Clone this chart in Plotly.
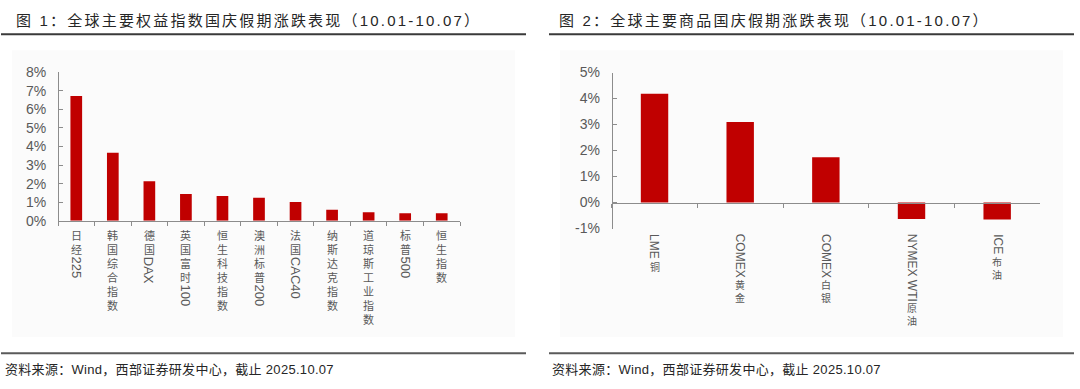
import plotly.graph_objects as go

W, H = 1080, 389

# ---------------- data ----------------
eq_names = ["日经225", "韩国综合指数", "德国DAX", "英国富时100", "恒生科技指数", "澳洲标普200",
            "法国CAC40", "纳斯达克指数", "道琼斯工业指数", "标普500", "恒生指数"]
eq_values = [6.72, 3.66, 2.13, 1.44, 1.34, 1.24, 1.01, 0.60, 0.46, 0.41, 0.41]
eq_ticks = [0, 1, 2, 3, 4, 5, 6, 7, 8]

cm_names = ["LME铜", "COMEX黄金", "COMEX白银", "NYMEX WTI原油", "ICE布油"]
cm_values = [4.18, 3.10, 1.74, -0.63, -0.65]
cm_ticks = [-1, 0, 1, 2, 3, 4, 5]

title1 = "图 1：全球主要权益指数国庆假期涨跌表现（10.01-10.07）"
title2 = "图 2：全球主要商品国庆假期涨跌表现（10.01-10.07）"
source = "资料来源：Wind，西部证券研发中心，截止 2025.10.07"

# ---------------- helpers ----------------
FONT = "Liberation Sans, Arial, Noto Sans CJK SC, sans-serif"
GREY = "#595959"
AXIS = "#8c8c8c"
BAR = "#C00000"


def xp(px):
    return px / W


def yp(py):
    return 1 - py / H


ARIAL_W = {**{d: 0.556 for d in "0123456789"}, "A": .667, "C": .722, "D": .722, "E": .667,
           "I": .278, "L": .556, "M": .833, "N": .722, "O": .778, "T": .611, "W": .944,
           "X": .667, "Y": .667, " ": .278}


def is_cjk(ch):
    return ord(ch) > 0x2E80


def runs(label):
    out = []
    for ch in label:
        c = is_cjk(ch)
        if out and out[-1][0] == c:
            out[-1][1] += ch
        else:
            out.append([c, ch])
    return out


def vertical_labels(names, xref, start_px, pitch, cjk_size, lat_size, gap_cl, gap_lc):
    anns = []
    half = pitch / 2
    for name in names:
        pos = start_px
        prev = None
        for cjk, txt in runs(name):
            if cjk:
                for ch in txt:
                    center = pos + half + (gap_lc if prev == "lat" else 0)
                    anns.append(dict(x=name, xref=xref, y=yp(center), yref="paper", text=ch,
                                     showarrow=False, xanchor="center", yanchor="middle",
                                     borderpad=0,
                                     font=dict(size=cjk_size, color=GREY, family="Noto Sans CJK SC")))
                    pos = center + half
                    prev = "cjk"
            else:
                length = sum(ARIAL_W.get(c, 0.6) for c in txt) * lat_size
                s = pos + (gap_cl if prev == "cjk" else 0)
                center = s + length / 2
                anns.append(dict(x=name, xref=xref, y=yp(center), yref="paper", text=txt,
                                 showarrow=False, xanchor="center", yanchor="middle", textangle=90,
                                 borderpad=0,
                                 font=dict(size=lat_size, color=GREY, family="Liberation Sans")))
                pos = s + length
                prev = "lat"
    return anns


# ---------------- geometry ----------------
L_dom_x = [xp(58), xp(460)]
L_dom_y = [yp(222), yp(67)]
R_dom_x = [xp(611.7), xp(1040)]
R_dom_y = [yp(230), yp(67.3)]

L_range = [eq_ticks[0], eq_ticks[-1]]
R_range = [cm_ticks[0], cm_ticks[-1]]


def zero_pos(dom, rng):
    return dom[0] + (0 - rng[0]) / (rng[1] - rng[0]) * (dom[1] - dom[0])


fig = go.Figure()
fig.add_trace(go.Bar(x=eq_names, y=eq_values, marker=dict(color=BAR, line=dict(width=0)),
                     xaxis="x", yaxis="y", hoverinfo="x+y"))
fig.add_trace(go.Bar(x=cm_names, y=cm_values, marker=dict(color=BAR, line=dict(width=0)),
                     xaxis="x2", yaxis="y2", hoverinfo="x+y"))

common_x = dict(type="category", showline=True, linecolor=AXIS, linewidth=1, ticks="outside",
                tickson="boundaries", ticklen=4, tickcolor=AXIS, showticklabels=False,
                showgrid=False, zeroline=False, fixedrange=True)
common_y = dict(showline=True, linecolor=AXIS, linewidth=1, ticks="inside", ticklen=4,
                tickcolor=AXIS, showgrid=False, zeroline=False, ticklabelstandoff=9,
                tickfont=dict(size=14, color=GREY, family="Liberation Sans"), fixedrange=True)

fig.update_layout(
    width=W, height=H, margin=dict(l=0, r=0, t=0, b=0),
    paper_bgcolor="white", plot_bgcolor="rgba(0,0,0,0)",
    font=dict(family=FONT), showlegend=False, bargap=0.68,
    xaxis=dict(**common_x, domain=L_dom_x, anchor="free",
               position=zero_pos(L_dom_y, L_range), range=[-0.5, len(eq_names) - 0.5]),
    yaxis=dict(**common_y, domain=L_dom_y, anchor="free", position=L_dom_x[0], range=L_range,
               tickvals=eq_ticks, ticktext=[f"{v}%" for v in eq_ticks]),
    xaxis2=dict(**common_x, domain=R_dom_x, anchor="free",
                position=zero_pos(R_dom_y, R_range), range=[-0.5, len(cm_names) - 0.5]),
    yaxis2=dict(**common_y, domain=R_dom_y, anchor="free", position=R_dom_x[0], range=R_range,
                tickvals=cm_ticks, ticktext=[f"{v}%" for v in cm_ticks]),
)

shapes = [
    # chart backgrounds
    dict(type="rect", xref="paper", yref="paper", x0=xp(12), x1=xp(515), y0=yp(343), y1=yp(44),
         fillcolor="#FBFBFB", line=dict(width=0), layer="below"),
    dict(type="rect", xref="paper", yref="paper", x0=xp(560), x1=xp(1063), y0=yp(343), y1=yp(44),
         fillcolor="#FBFBFB", line=dict(width=0), layer="below"),
    # separator lines
    dict(type="line", xref="paper", yref="paper", x0=xp(1), x1=xp(526), y0=yp(27.3), y1=yp(27.3),
         line=dict(color="#3a3a3a", width=2)),
    dict(type="line", xref="paper", yref="paper", x0=xp(549), x1=xp(1074), y0=yp(27.3), y1=yp(27.3),
         line=dict(color="#3a3a3a", width=2)),
    dict(type="line", xref="paper", yref="paper", x0=xp(1), x1=xp(526), y0=yp(360), y1=yp(360),
         line=dict(color="#5a5a5a", width=2)),
    dict(type="line", xref="paper", yref="paper", x0=xp(549), x1=xp(1074), y0=yp(360), y1=yp(360),
         line=dict(color="#5a5a5a", width=2)),
]
fig.update_layout(shapes=shapes)

anns = []
for tx, x0 in [(title1, 14), (title2, 557)]:
    anns.append(dict(text=f'<span style="letter-spacing:2.2px">{tx}</span>', x=xp(x0), y=yp(13),
                     xref="paper", yref="paper", showarrow=False,
                     xanchor="left", yanchor="middle", font=dict(size=15, color="#262626", family=FONT)))
for x0 in [3, 550]:
    anns.append(dict(text=f'<span style="letter-spacing:0.3px">{source}</span>', x=xp(x0), y=yp(377),
                     xref="paper", yref="paper", showarrow=False,
                     xanchor="left", yanchor="middle", font=dict(size=13, color="#262626", family=FONT)))

anns += vertical_labels(eq_names, "x", 230, 14.5, 11, 13, 1, 0)
anns += vertical_labels(cm_names, "x2", 236.5, 13.4, 10, 12, 1, 1.5)
fig.update_layout(annotations=anns)

fig.write_html("out.html", config={"displayModeBar": False},
               post_script="document.body.style.margin='0';document.body.style.overflow='hidden';")
